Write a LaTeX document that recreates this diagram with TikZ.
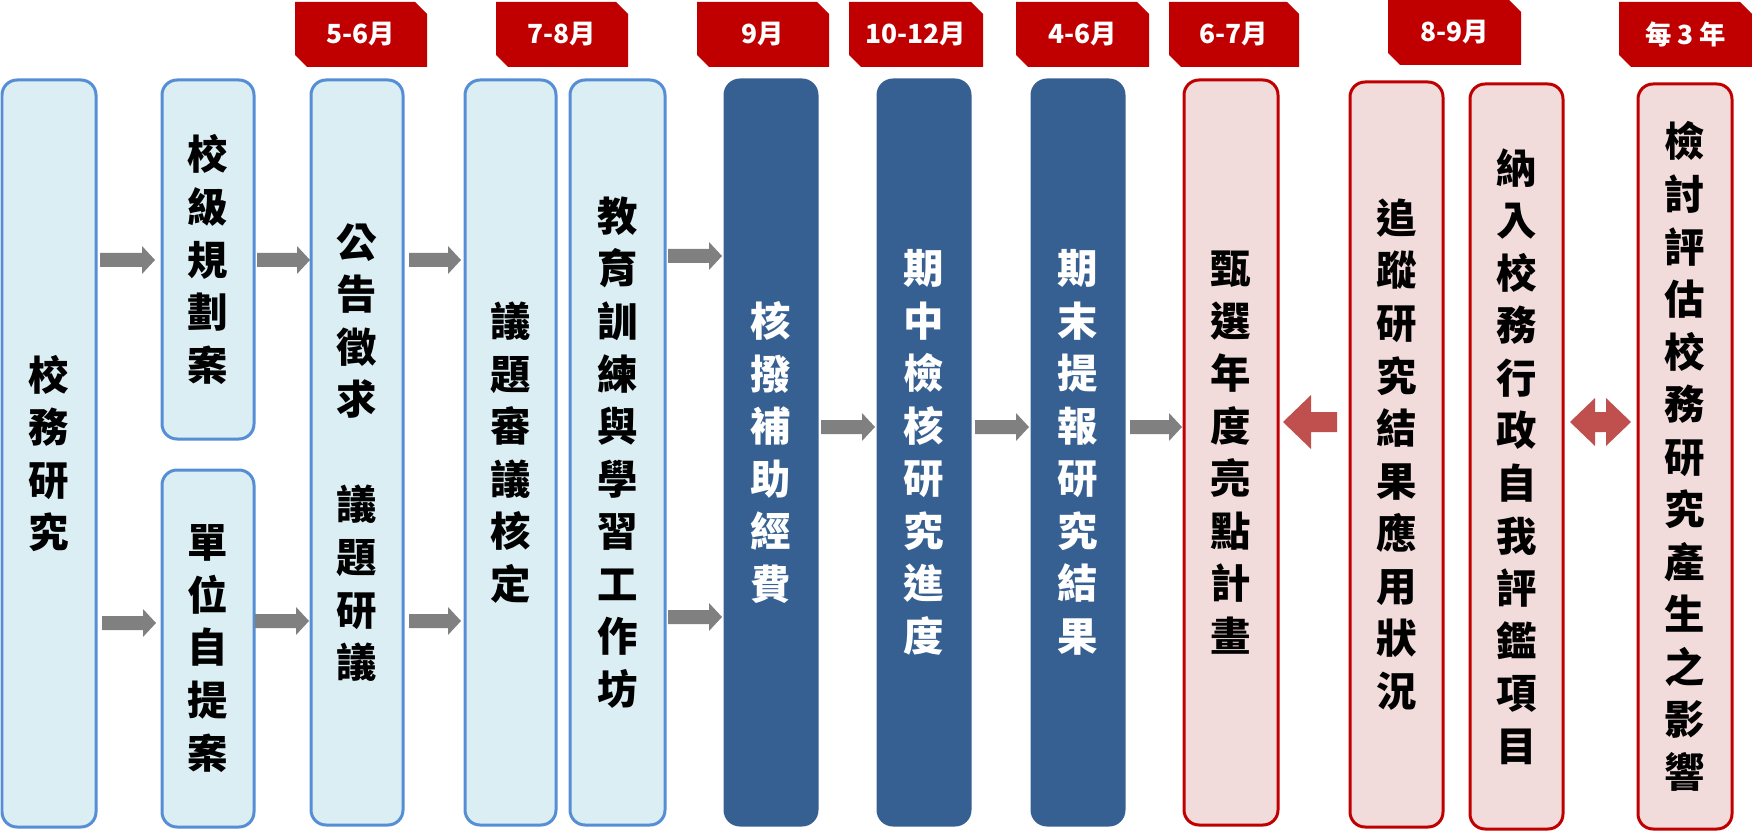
\documentclass[tikz,border=0pt]{standalone}
\usepackage{fontspec}
\newfontfamily\cjk{Noto Sans CJK TC}
\definecolor{bfill}{HTML}{DAEEF3}
\definecolor{bdraw}{HTML}{558ED5}
\definecolor{dfill}{HTML}{376092}
\definecolor{pfill}{HTML}{F2DCDB}
\definecolor{pdraw}{HTML}{C00000}
\definecolor{tabred}{HTML}{C00000}
\definecolor{rarr}{HTML}{C0504D}
\definecolor{garr}{HTML}{808080}
\tikzset{
  boxbase/.style={rounded corners=0.3cm, line width=0.06cm, align=center, inner sep=0pt,
    font=\cjk\bfseries\fontsize{23}{29.9}\selectfont},
  bluebox/.style={boxbase, fill=bfill, draw=bdraw, text=black},
  darkbox/.style={boxbase, fill=dfill, draw=dfill, text=white},
  pinkbox/.style={boxbase, fill=pfill, draw=pdraw, text=black},
  tabtext/.style={text=white, font=\cjk\bfseries\fontsize{15}{18}\selectfont, inner sep=0pt}
}
\newcommand\bx[7]{\node[#2, minimum width={(#5-#3)*0.02cm}, minimum height={(#6-#4)*0.02cm}] (#1) at ({(#3+#5)/2},{(#4+#6)/2}) {#7};}
\newcommand\tabm[5]{\fill[tabred] (#2,#3) -- ({#4-12},#3) -- (#4,{#3+12}) -- (#4,#5) -- ({#2+12},#5) -- (#2,{#5-12}) -- cycle;
  \node[tabtext] (#1) at ({(#2+#4)/2},{(#3+#5)/2}) {#1};}
\newcommand\garrow[3]{\fill[garr] (#1,{#3-7}) -- ({#2-13},{#3-7}) -- ({#2-13},{#3-14}) -- (#2,#3) -- ({#2-13},{#3+14}) -- ({#2-13},{#3+7}) -- (#1,{#3+7}) -- cycle;}
\begin{document}
\begin{tikzpicture}[x=0.02cm,y=-0.02cm]
\useasboundingbox (0,0) rectangle (1752,831);
\bx{a}{bluebox}{2}{80}{96}{827}{校\\務\\研\\究}
\bx{b}{bluebox}{162}{80}{254}{439}{校\\級\\規\\劃\\案}
\bx{c}{bluebox}{162}{470}{254}{827}{單\\位\\自\\提\\案}
\bx{d}{bluebox}{311}{80}{403}{825}{公\\告\\徵\\求\\[29.9pt]議\\題\\研\\議}
\bx{e}{bluebox}{465}{80}{556}{825}{議\\題\\審\\議\\核\\定}
\bx{f}{bluebox}{570}{80}{665}{825}{教\\育\\訓\\練\\與\\學\\習\\工\\作\\坊}
\bx{g}{darkbox}{725}{80}{817}{825}{核\\撥\\補\\助\\經\\費}
\bx{h}{darkbox}{878}{80}{970}{825}{期\\中\\檢\\核\\研\\究\\進\\度}
\bx{i}{darkbox}{1032}{80}{1124}{825}{期\\末\\提\\報\\研\\究\\結\\果}
\bx{j}{pinkbox}{1184}{80}{1278}{825}{甄\\選\\年\\度\\亮\\點\\計\\畫}
\bx{k}{pinkbox}{1350}{82}{1443}{827}{追\\蹤\\研\\究\\結\\果\\應\\用\\狀\\況}
\bx{l}{pinkbox}{1470}{84}{1563}{829}{納\\入\\校\\務\\行\\政\\自\\我\\評\\鑑\\項\\目}
\bx{m}{pinkbox}{1638}{84}{1732}{829}{檢\\討\\評\\估\\校\\務\\研\\究\\產\\生\\之\\影\\響}
\tabm{5-6月}{295}{2}{427}{67}
\tabm{7-8月}{496}{2}{628}{67}
\tabm{9月}{697}{2}{829}{67}
\tabm{10-12月}{849}{2}{983}{67}
\tabm{4-6月}{1016}{2}{1149}{67}
\tabm{6-7月}{1169}{2}{1299}{67}
\tabm{8-9月}{1388}{0}{1521}{65}
\tabm{每 3 年}{1619}{2}{1752}{67}
\garrow{100}{155}{260}
\garrow{102}{156}{623}
\garrow{257}{310}{260}
\garrow{255}{309}{621}
\garrow{409}{461}{260}
\garrow{409}{461}{621}
\garrow{668}{722}{256}
\garrow{668}{722}{617}
\garrow{821}{875}{427}
\garrow{975}{1029}{427}
\garrow{1130}{1182}{427}
\fill[rarr] (1337,412) -- (1311,412) -- (1311,395) -- (1283,422) -- (1311,449) -- (1311,432) -- (1337,432) -- cycle;
\fill[rarr] (1570,422) -- (1595,398) -- (1595,412) -- (1606,412) -- (1606,398) -- (1631,422) -- (1606,446) -- (1606,432) -- (1595,432) -- (1595,446) -- cycle;
\end{tikzpicture}
\end{document}
